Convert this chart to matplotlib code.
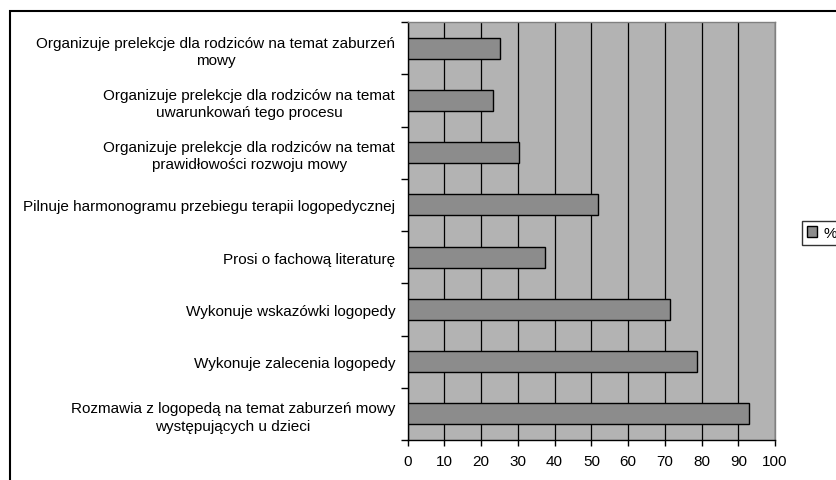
import matplotlib
matplotlib.use("Agg")
import matplotlib.pyplot as plt
from matplotlib.patches import Rectangle
import numpy as np

plt.rcParams['font.family'] = ['Liberation Sans', 'DejaVu Sans']

# categories, bottom to top
categories = [
    "Rozmawia z logopedą na temat zaburzeń mowy\nwystępujących u dzieci",
    "Wykonuje zalecenia logopedy",
    "Wykonuje wskazówki logopedy",
    "Prosi o fachową literaturę",
    "Pilnuje harmonogramu przebiegu terapii logopedycznej",
    "Organizuje prelekcje dla rodziców na temat\nprawidłowości rozwoju mowy",
    "Organizuje prelekcje dla rodziców na temat\nuwarunkowań tego procesu",
    "Organizuje prelekcje dla rodziców na temat zaburzeń\nmowy",
]
values = [92.8, 78.7, 71.3, 37.4, 51.9, 30.3, 23.2, 25.2]
series_name = "%"
x_ticks = list(range(0, 101, 10))

W, H = 837, 481
fig = plt.figure(figsize=(W / 100, H / 100), dpi=100)
ax = fig.add_axes([407.7 / W, 1 - 441 / H, (775 - 407.7) / W, (441 - 23) / H])
ax.set_facecolor('#b3b3b3')

y = np.arange(len(categories))
ax.barh(y, values, height=0.4, color='#8c8c8c', edgecolor='black', linewidth=1, zorder=3)

ax.set_xlim(0, 100)
ax.set_ylim(-0.5, len(categories) - 0.5)
ax.set_xticks(x_ticks)
ax.set_xticklabels([str(t) for t in x_ticks], fontsize=11)
ax.xaxis.grid(True, color='black', linewidth=0.9, zorder=1)
ax.set_axisbelow(True)

# boundary ticks without labels, labels at bar centres
ax.set_yticks(np.arange(-0.5, len(categories), 1.0))
ax.set_yticklabels([])
ax.set_yticks(y, minor=True)
ax.set_yticklabels(categories, minor=True, fontsize=11, multialignment='center',
                   linespacing=1.3)
ax.tick_params(axis='y', which='minor', length=0, pad=9)
ax.tick_params(axis='y', which='major', length=5, width=1, direction='out')
ax.tick_params(axis='x', length=4, width=1, direction='out', pad=6)

for s in ['left', 'bottom']:
    ax.spines[s].set_color('black')
    ax.spines[s].set_linewidth(1)
for s in ['top', 'right']:
    ax.spines[s].set_color('#808080')
    ax.spines[s].set_linewidth(1)

# outer chart border
fig.patches.append(Rectangle((10 / W, -0.1), 1.2, 1 - 12 / H + 0.1,
                             transform=fig.transFigure, fill=False,
                             edgecolor='black', linewidth=1.5))

handle = Rectangle((0, 0), 1, 1, facecolor='#8c8c8c', edgecolor='black', linewidth=1)
leg = fig.legend([handle], [series_name], loc='center left',
                 bbox_to_anchor=(802 / W, 1 - 234 / H), fontsize=11,
                 frameon=True, fancybox=False, handlelength=0.7, handleheight=0.7,
                 handletextpad=0.4, borderpad=0.3, borderaxespad=0)
leg.get_frame().set_edgecolor('black')
leg.get_frame().set_linewidth(1)

fig.savefig("out.png", dpi=100)
